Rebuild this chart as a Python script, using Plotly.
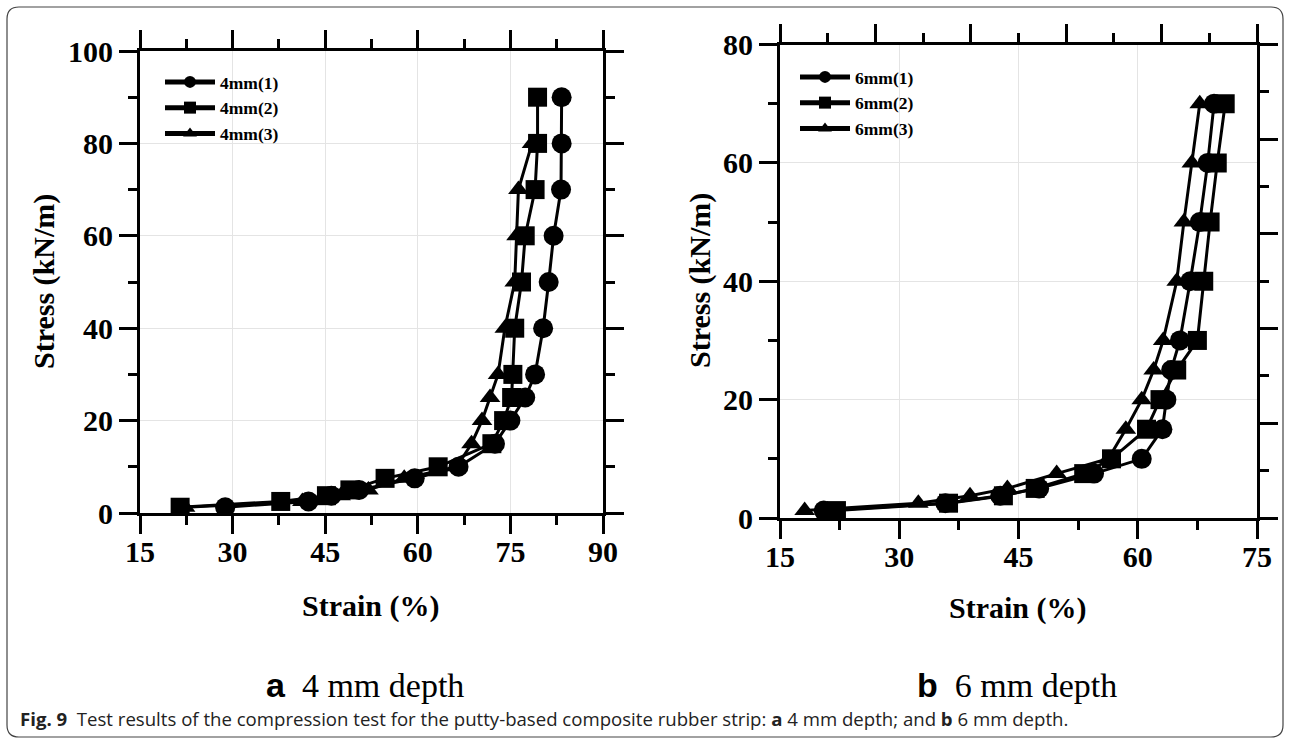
import plotly.graph_objects as go

# ---------------- data ----------------
stress_4mm_1 = [1.25, 2.5, 3.75, 5, 7.5, 10, 15, 20, 25, 30, 40, 50, 60, 70, 80, 90]
strain_4mm_1 = [28.8, 42.3, 46.0, 50.5, 59.5, 66.6, 72.5, 75.0, 77.4, 79.0, 80.3, 81.2, 82.0, 83.2, 83.3, 83.3]
stress_4mm_2 = [1.25, 2.5, 3.75, 5, 7.5, 10, 15, 20, 25, 30, 40, 50, 60, 70, 80, 90]
strain_4mm_2 = [21.5, 37.8, 45.2, 49.0, 54.7, 63.3, 72.0, 73.9, 75.2, 75.4, 75.7, 76.8, 77.4, 79.0, 79.4, 79.4]
stress_4mm_3 = [1.25, 2.5, 3.75, 5, 7.5, 10, 15, 20, 25, 30, 40, 50, 60, 70, 80]
strain_4mm_3 = [22.3, 41.3, 47.5, 52.0, 57.8, 66.3, 68.7, 70.4, 71.7, 73.0, 74.1, 75.7, 76.0, 76.3, 78.5]

stress_6mm_1 = [1.25, 2.5, 3.75, 5, 7.5, 10, 15, 20, 25, 30, 40, 50, 60, 70]
strain_6mm_1 = [20.5, 35.8, 42.7, 47.6, 54.5, 60.5, 63.1, 63.6, 64.2, 65.3, 66.6, 67.8, 68.8, 69.6]
stress_6mm_2 = [1.25, 2.5, 3.75, 5, 7.5, 10, 15, 20, 25, 30, 40, 50, 60, 70]
strain_6mm_2 = [22.1, 36.2, 43.1, 47.1, 53.2, 56.7, 61.1, 62.8, 64.9, 67.5, 68.3, 69.1, 70.0, 71.0]
stress_6mm_3 = [1.25, 2.5, 3.75, 5, 7.5, 10, 15, 20, 25, 30, 40, 50, 60, 70]
strain_6mm_3 = [18.1, 32.4, 38.9, 43.6, 49.8, 56.3, 58.5, 60.5, 62.0, 63.2, 64.9, 65.8, 66.8, 67.8]

names_4mm = ["4mm(1)", "4mm(2)", "4mm(3)"]
names_6mm = ["6mm(1)", "6mm(2)", "6mm(3)"]
x_title = "Strain (%)"
y_title = "Stress (kN/m)"
panel_a = "4 mm depth"
panel_b = "6 mm depth"
caption = ("<b>Fig. 9</b>  Test results of the compression test for the putty-based composite rubber strip: "
           "<b>a</b> 4 mm depth; and <b>b</b> 6 mm depth.")

W, H = 1290, 744
SERIF = "Liberation Serif, Times New Roman, serif"

fig = go.Figure()


def add(xs, ys, name, symbol, size, xa, ya, legend, rank):
    fig.add_trace(go.Scatter(
        x=xs, y=ys, name=name, mode="lines+markers",
        line=dict(color="black", width=3),
        marker=dict(symbol=symbol, size=size, color="black"),
        xaxis=xa, yaxis=ya, legend=legend, legendrank=rank))


# draw order: circles, triangles, squares (squares on top)
add(strain_4mm_1, stress_4mm_1, names_4mm[0], "circle", 20, "x", "y", "legend", 1)
add(strain_4mm_3, stress_4mm_3, names_4mm[2], "triangle-up", 18, "x", "y", "legend", 3)
add(strain_4mm_2, stress_4mm_2, names_4mm[1], "square", 19, "x", "y", "legend", 2)

add(strain_6mm_1, stress_6mm_1, names_6mm[0], "circle", 20, "x2", "y2", "legend2", 1)
add(strain_6mm_3, stress_6mm_3, names_6mm[2], "triangle-up", 18, "x2", "y2", "legend2", 3)
add(strain_6mm_2, stress_6mm_2, names_6mm[1], "square", 19, "x2", "y2", "legend2", 2)

# empty helper trace so the decorative top/right frame axes of panel b exist
fig.add_trace(go.Scatter(x=[], y=[], xaxis="x3", yaxis="y3", showlegend=False, hoverinfo="skip"))

tickfont = dict(family=SERIF, size=30, color="black", weight="bold")


def ax(**kw):
    d = dict(showline=True, linecolor="black", linewidth=3, ticks="outside", ticklen=18,
             tickwidth=3, tickcolor="black", gridcolor="#e4e4e4", gridwidth=1, zeroline=False,
             tickfont=tickfont, fixedrange=True, automargin=False)
    d.update(kw)
    return d


def minor(dt):
    return dict(dtick=dt, ticks="outside", ticklen=9, tickwidth=3, tickcolor="black", showgrid=False)


xa_dom = [140 / W, 603 / W]
ya_dom = [1 - 513 / H, 1 - 51 / H]
xb_dom = [780 / W, 1257 / W]
yb_dom = [1 - 518 / H, 1 - 44.5 / H]

legend_font = dict(family=SERIF, size=17.5, color="black", weight="bold")

fig.update_layout(
    width=W, height=H, margin=dict(l=0, r=0, t=0, b=0, pad=0, autoexpand=False),
    paper_bgcolor="white", plot_bgcolor="white",
    xaxis=ax(domain=xa_dom, range=[15, 90], tick0=15, dtick=15, minor=minor(7.5), anchor="y",
             mirror="allticks", showgrid=True, ticklabelstandoff=-8),
    yaxis=ax(domain=ya_dom, range=[0, 100], tick0=0, dtick=20, minor=minor(10), anchor="x",
             mirror="allticks", showgrid=True, ticklabelstandoff=0),
    xaxis2=ax(domain=xb_dom, range=[15, 75], tick0=15, dtick=15, minor=minor(7.5), anchor="y2",
              showgrid=True, ticklabelstandoff=-8),
    yaxis2=ax(domain=yb_dom, range=[0, 80], tick0=0, dtick=20, minor=minor(10), anchor="x2",
              showgrid=True, ticklabelstandoff=0),
    xaxis3=ax(overlaying="x2", anchor="y2", side="top", range=[15, 90], tick0=15, dtick=15,
              minor=minor(7.5), showgrid=False, showticklabels=False),
    yaxis3=ax(overlaying="y2", anchor="x2", side="right", range=[0, 100], tick0=0, dtick=20,
              minor=minor(10), showgrid=False, showticklabels=False),
    legend=dict(x=160 / W, y=1 - 64 / H, xanchor="left", yanchor="top",
                bgcolor="rgba(0,0,0,0)", borderwidth=0, itemsizing="constant",
                font=legend_font, tracegroupgap=0, itemwidth=50),
    legend2=dict(x=795 / W, y=1 - 59 / H, xanchor="left", yanchor="top",
                 bgcolor="rgba(0,0,0,0)", borderwidth=0, itemsizing="constant",
                 font=legend_font, tracegroupgap=0, itemwidth=50),
    showlegend=True,
)

title_font = dict(family=SERIF, size=30, color="black", weight="bold")
ann = [
    dict(text=y_title, x=44 / W, y=1 - 282 / H, textangle=-90, font=title_font),
    dict(text=x_title, x=371 / W, y=1 - 606 / H, font=title_font),
    dict(text=y_title, x=700 / W, y=1 - 281 / H, textangle=-90, font=title_font),
    dict(text=x_title, x=1018 / W, y=1 - 608 / H, font=title_font),
    dict(text='<span style="font-family:Liberation Sans, Arial;font-weight:bold">a</span>&nbsp;&nbsp;' + panel_a,
         x=365 / W, y=1 - 685 / H, font=dict(family=SERIF, size=34, color="black")),
    dict(text='<span style="font-family:Liberation Sans, Arial;font-weight:bold">b</span>&nbsp;&nbsp;' + panel_b,
         x=1017 / W, y=1 - 685 / H, font=dict(family=SERIF, size=34, color="black")),
    dict(text=caption, x=18 / W, y=1 - 718 / H, xanchor="left",
         font=dict(family="Open Sans, Noto Sans, sans-serif", size=18.6, color="#222")),
]
for a in ann:
    a.update(xref="paper", yref="paper", showarrow=False)
    a.setdefault("xanchor", "center")
    a.setdefault("yanchor", "middle")
fig.update_layout(annotations=ann)

# rounded outer border of the figure panel
x0, y0, x1, y1, r = 7 / W, 1 - 737 / H, 1283 / W, 1 - 7 / H, 12
rx, ry = r / W, r / H
path = (f"M {x0 + rx},{y1} L {x1 - rx},{y1} Q {x1},{y1} {x1},{y1 - ry} "
        f"L {x1},{y0 + ry} Q {x1},{y0} {x1 - rx},{y0} L {x0 + rx},{y0} "
        f"Q {x0},{y0} {x0},{y0 + ry} L {x0},{y1 - ry} Q {x0},{y1} {x0 + rx},{y1} Z")
fig.add_shape(type="path", path=path, xref="paper", yref="paper",
              line=dict(color="#444", width=1.2), layer="below")

fig.write_html("out.html", config={"displayModeBar": False},
               post_script="document.body.style.margin='0';document.body.style.overflow='hidden';")
